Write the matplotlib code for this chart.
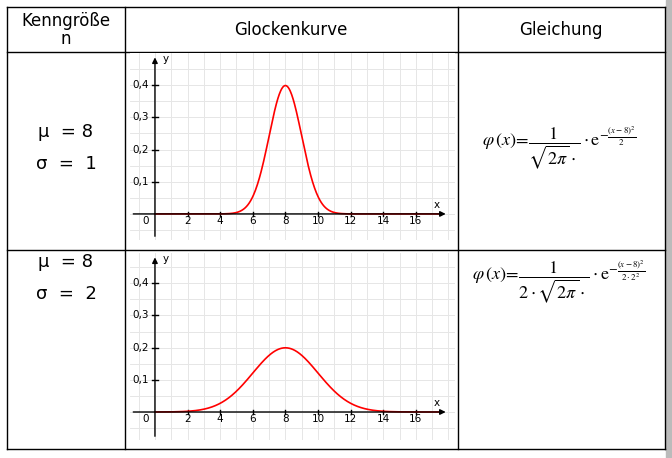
import numpy as np
import matplotlib.pyplot as plt
from matplotlib.lines import Line2D

plt.rcParams["mathtext.fontset"] = "stix"

W, H = 672, 458
MU = [8, 8]
SIGMA = [1, 2]
XTICKS = [0, 2, 4, 6, 8, 10, 12, 14, 16]
YTICKS = [0.1, 0.2, 0.3, 0.4]
YTICK_LABELS = ["0,1", "0,2", "0,3", "0,4"]
HEADERS = ["Kenngröße\nn", "Glockenkurve", "Gleichung"]
FORMULAS = [
    r"$\varphi\,(x)\!=\!\dfrac{1}{\sqrt{2\pi}\cdot}\cdot\mathrm{e}^{-\frac{(x-8)^2}{2}}$",
    r"$\varphi\,(x)\!=\!\dfrac{1}{2\cdot\sqrt{2\pi}\cdot}\cdot\mathrm{e}^{-\frac{(x-8)^2}{2\cdot 2^2}}$",
]

fig = plt.figure(figsize=(W / 100, H / 100), dpi=100)
bg = fig.add_axes([0, 0, 1, 1])
bg.set_xlim(0, W)
bg.set_ylim(H, 0)
bg.axis("off")

# table grid
cols = [7, 125, 458, 665]
rows = [7, 52, 250, 449]
for c in cols:
    bg.add_line(Line2D([c, c], [rows[0], rows[-1]], color="black", lw=1))
for r in rows:
    bg.add_line(Line2D([cols[0], cols[-1]], [r, r], color="black", lw=1))
bg.fill_between([666, 672], 0, H, color="#bbbbbb")

bg.text(66, 30, HEADERS[0], ha="center", va="center", fontsize=12, linespacing=1.0)
bg.text(291, 30, HEADERS[1], ha="center", va="center", fontsize=12)
bg.text(561, 30, HEADERS[2], ha="center", va="center", fontsize=12)

bg.text(66, 132, f"μ  = {MU[0]}", ha="center", va="center", fontsize=13)
bg.text(66, 164, f"σ  =  {SIGMA[0]}", ha="center", va="center", fontsize=13)
bg.text(66, 262, f"μ  = {MU[1]}", ha="center", va="center", fontsize=13)
bg.text(66, 294, f"σ  =  {SIGMA[1]}", ha="center", va="center", fontsize=13)

bg.text(482, 148, FORMULAS[0], ha="left", va="center", fontsize=13)
bg.text(472, 282, FORMULAS[1], ha="left", va="center", fontsize=13)

# plots: (left, top, right, bottom) in px, y-range
panels = [((130, 53, 455, 240), (-0.081, 0.5)), ((130, 253, 455, 440), (-0.087, 0.494))]
x = np.linspace(0, 17.5, 600)
for (box, ylim), mu, s in zip(panels, MU, SIGMA):
    l, t, r, b = box
    ax = fig.add_axes([l / W, 1 - b / H, (r - l) / W, (b - t) / H])
    ax.set_xlim(-1.53, 18.4)
    ax.set_ylim(*ylim)
    for sp in ax.spines.values():
        sp.set_visible(False)
    ax.set_xticks(np.arange(-1, 19, 1), minor=True)
    ax.set_yticks(np.arange(-0.05, 0.5, 0.05), minor=True)
    ax.grid(which="minor", color="#e6e6e6", lw=0.7)
    ax.set_xticks([])
    ax.set_yticks([])
    ax.tick_params(which="both", length=0, labelbottom=False, labelleft=False)
    ax.set_axisbelow(True)
    ax.annotate("", xy=(18.0, 0), xytext=(-1.5, 0),
                arrowprops=dict(arrowstyle="-|>", color="black", lw=1, mutation_scale=8))
    ax.annotate("", xy=(0, ylim[1] - 0.005), xytext=(0, ylim[0] + 0.003),
                arrowprops=dict(arrowstyle="-|>", color="black", lw=1, mutation_scale=8))
    for xt in XTICKS[1:]:
        ax.plot([xt, xt], [-0.006, 0.006], color="black", lw=1)
        ax.text(xt, -0.022, str(xt), ha="center", va="center", fontsize=7.5)
    ax.text(-0.4, -0.022, "0", ha="right", va="center", fontsize=7.5)
    for yt, lab in zip(YTICKS, YTICK_LABELS):
        ax.plot([-0.2, 0.2], [yt, yt], color="black", lw=1)
        ax.text(-0.35, yt, lab, ha="right", va="center", fontsize=7.5)
    ax.text(17.3, 0.012, "x", ha="center", va="bottom", fontsize=7.5)
    ax.text(0.5, ylim[1] - 0.02, "y", ha="left", va="center", fontsize=7.5)
    y = np.exp(-(x - mu) ** 2 / (2 * s ** 2)) / (s * np.sqrt(2 * np.pi))
    ax.plot(x, y, color="red", lw=1.2)

fig.savefig("out.png", dpi=100)
